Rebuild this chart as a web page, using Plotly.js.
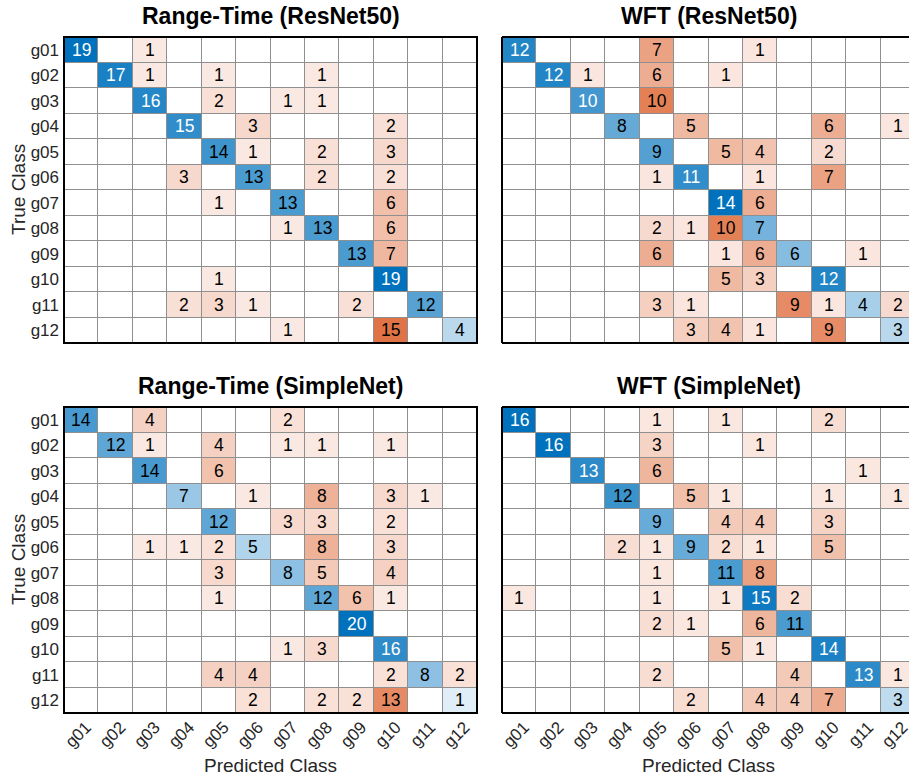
<!DOCTYPE html>
<html>
<head>
<meta charset="utf-8">
<script src="https://cdn.plot.ly/plotly-3.0.1.min.js"></script>
<style>
  html, body { margin: 0; padding: 0; background: #fff; }
  #chart { width: 909px; height: 780px; }
</style>
</head>
<body>
<div id="chart"></div>
<script>
// Gesture classes (rows = true class, columns = predicted class)
const classes = ['g01','g02','g03','g04','g05','g06','g07','g08','g09','g10','g11','g12'];

const rangeTimeResNet50 = [
  [19, 0, 1, 0, 0, 0, 0, 0, 0, 0, 0, 0],
  [ 0,17, 1, 0, 1, 0, 0, 1, 0, 0, 0, 0],
  [ 0, 0,16, 0, 2, 0, 1, 1, 0, 0, 0, 0],
  [ 0, 0, 0,15, 0, 3, 0, 0, 0, 2, 0, 0],
  [ 0, 0, 0, 0,14, 1, 0, 2, 0, 3, 0, 0],
  [ 0, 0, 0, 3, 0,13, 0, 2, 0, 2, 0, 0],
  [ 0, 0, 0, 0, 1, 0,13, 0, 0, 6, 0, 0],
  [ 0, 0, 0, 0, 0, 0, 1,13, 0, 6, 0, 0],
  [ 0, 0, 0, 0, 0, 0, 0, 0,13, 7, 0, 0],
  [ 0, 0, 0, 0, 1, 0, 0, 0, 0,19, 0, 0],
  [ 0, 0, 0, 2, 3, 1, 0, 0, 2, 0,12, 0],
  [ 0, 0, 0, 0, 0, 0, 1, 0, 0,15, 0, 4]
];

const wftResNet50 = [
  [12, 0, 0, 0, 7, 0, 0, 1, 0, 0, 0, 0],
  [ 0,12, 1, 0, 6, 0, 1, 0, 0, 0, 0, 0],
  [ 0, 0,10, 0,10, 0, 0, 0, 0, 0, 0, 0],
  [ 0, 0, 0, 8, 0, 5, 0, 0, 0, 6, 0, 1],
  [ 0, 0, 0, 0, 9, 0, 5, 4, 0, 2, 0, 0],
  [ 0, 0, 0, 0, 1,11, 0, 1, 0, 7, 0, 0],
  [ 0, 0, 0, 0, 0, 0,14, 6, 0, 0, 0, 0],
  [ 0, 0, 0, 0, 2, 1,10, 7, 0, 0, 0, 0],
  [ 0, 0, 0, 0, 6, 0, 1, 6, 6, 0, 1, 0],
  [ 0, 0, 0, 0, 0, 0, 5, 3, 0,12, 0, 0],
  [ 0, 0, 0, 0, 3, 1, 0, 0, 9, 1, 4, 2],
  [ 0, 0, 0, 0, 0, 3, 4, 1, 0, 9, 0, 3]
];

const rangeTimeSimpleNet = [
  [14, 0, 4, 0, 0, 0, 2, 0, 0, 0, 0, 0],
  [ 0,12, 1, 0, 4, 0, 1, 1, 0, 1, 0, 0],
  [ 0, 0,14, 0, 6, 0, 0, 0, 0, 0, 0, 0],
  [ 0, 0, 0, 7, 0, 1, 0, 8, 0, 3, 1, 0],
  [ 0, 0, 0, 0,12, 0, 3, 3, 0, 2, 0, 0],
  [ 0, 0, 1, 1, 2, 5, 0, 8, 0, 3, 0, 0],
  [ 0, 0, 0, 0, 3, 0, 8, 5, 0, 4, 0, 0],
  [ 0, 0, 0, 0, 1, 0, 0,12, 6, 1, 0, 0],
  [ 0, 0, 0, 0, 0, 0, 0, 0,20, 0, 0, 0],
  [ 0, 0, 0, 0, 0, 0, 1, 3, 0,16, 0, 0],
  [ 0, 0, 0, 0, 4, 4, 0, 0, 0, 2, 8, 2],
  [ 0, 0, 0, 0, 0, 2, 0, 2, 2,13, 0, 1]
];

const wftSimpleNet = [
  [16, 0, 0, 0, 1, 0, 1, 0, 0, 2, 0, 0],
  [ 0,16, 0, 0, 3, 0, 0, 1, 0, 0, 0, 0],
  [ 0, 0,13, 0, 6, 0, 0, 0, 0, 0, 1, 0],
  [ 0, 0, 0,12, 0, 5, 1, 0, 0, 1, 0, 1],
  [ 0, 0, 0, 0, 9, 0, 4, 4, 0, 3, 0, 0],
  [ 0, 0, 0, 2, 1, 9, 2, 1, 0, 5, 0, 0],
  [ 0, 0, 0, 0, 1, 0,11, 8, 0, 0, 0, 0],
  [ 1, 0, 0, 0, 1, 0, 1,15, 2, 0, 0, 0],
  [ 0, 0, 0, 0, 2, 1, 0, 6,11, 0, 0, 0],
  [ 0, 0, 0, 0, 0, 0, 5, 1, 0,14, 0, 0],
  [ 0, 0, 0, 0, 2, 0, 0, 0, 4, 0,13, 1],
  [ 0, 0, 0, 0, 0, 2, 0, 4, 4, 7, 0, 3]
];

const panelTitles = ['Range-Time (ResNet50)', 'WFT (ResNet50)', 'Range-Time (SimpleNet)', 'WFT (SimpleNet)'];
const matrices = [rangeTimeResNet50, wftResNet50, rangeTimeSimpleNet, wftSimpleNet];
// smallest diagonal count drawn with white text in each panel
const whiteTextMin = [15, 10, 15, 13];

// ---- layout geometry (pixels in a 909 x 780 figure) ----
const W = 909, H = 780;
const cellW = 413 / 12;
const panels = [
  { left: 64,  top: 37,  right: 477, bottom: 343, yLabels: true,  xLabels: false, clipped: false },
  { left: 502, top: 37,  right: 909, bottom: 343, yLabels: false, xLabels: false, clipped: true  },
  { left: 64,  top: 407, right: 477, bottom: 713, yLabels: true,  xLabels: true,  clipped: false },
  { left: 502, top: 407, right: 909, bottom: 713, yLabels: false, xLabels: true,  clipped: true  }
];

const FONT = 'Liberation Sans, Arial, Helvetica, sans-serif';
const BLUE = [0, 114, 189];
const ORANGE = [217, 83, 25];

function ramp(rgb) {
  const mix = a => 'rgb(' + rgb.map(c => Math.round(255 + (c - 255) * a)).join(',') + ')';
  return [[0, '#ffffff'], [0.0001, mix(0.08)], [1, mix(1)]];
}

const data = [];
const annotations = [];
const shapes = [];
const layout = {
  width: W, height: H,
  margin: { l: 0, r: 0, t: 0, b: 0 },
  paper_bgcolor: '#ffffff',
  plot_bgcolor: '#8f8f8f',
  showlegend: false,
  font: { family: FONT, color: '#262626' }
};

matrices.forEach((m, p) => {
  const g = panels[p];
  const idx = p === 0 ? '' : String(p + 1);
  const xa = 'x' + idx, ya = 'y' + idx;
  const zmax = Math.max(...m.flat());

  const offDiag = m.map((row, i) => row.map((v, j) => (i === j ? null : v)));
  const diag = m.map((row, i) => row.map((v, j) => (i === j ? v : null)));

  const common = {
    type: 'heatmap', x: classes, y: classes, xaxis: xa, yaxis: ya,
    zmin: 0, zmax: zmax, showscale: false, xgap: 1, ygap: 1, hoverinfo: 'skip'
  };
  data.push(Object.assign({}, common, { z: offDiag, colorscale: ramp(ORANGE) }));
  data.push(Object.assign({}, common, { z: diag, colorscale: ramp(BLUE) }));

  // cell counts
  m.forEach((row, i) => row.forEach((v, j) => {
    if (v === 0) return;
    const white = i === j && v >= whiteTextMin[p];
    annotations.push({
      x: classes[j], y: classes[i], xref: xa, yref: ya, text: String(v),
      showarrow: false, font: { family: FONT, size: 17.5, color: white ? '#ffffff' : '#000000' }
    });
  }));

  const visibleCols = (g.right - g.left) / cellW;
  layout['xaxis' + idx] = {
    domain: [g.left / W, g.right / W],
    anchor: ya,
    type: 'category', categoryorder: 'array', categoryarray: classes,
    range: [-0.5, -0.5 + visibleCols],
    showgrid: false, zeroline: false, showline: false, ticks: '',
    showticklabels: g.xLabels, tickangle: -45, ticklabelstandoff: 0, ticklabelshift: 5,
    tickfont: { family: FONT, size: 17, color: '#262626' },
    fixedrange: true
  };
  layout['yaxis' + idx] = {
    domain: [1 - g.bottom / H, 1 - g.top / H],
    anchor: xa,
    type: 'category', categoryorder: 'array', categoryarray: classes,
    range: [11.5, -0.5],
    showgrid: false, zeroline: false, showline: false, ticks: '',
    showticklabels: g.yLabels, ticklabelstandoff: 4,
    tickfont: { family: FONT, size: 17, color: '#262626' },
    fixedrange: true
  };

  // panel frame
  const line = { color: '#000000', width: 2 };
  const dom = { xref: xa + ' domain', yref: ya + ' domain' };
  if (!g.clipped) {
    shapes.push(Object.assign({ type: 'rect', x0: 0, x1: 1, y0: 0, y1: 1, line: line }, dom));
  } else {
    shapes.push(Object.assign({ type: 'line', x0: 0, x1: 0, y0: 0, y1: 1, line: line }, dom));
    shapes.push(Object.assign({ type: 'line', x0: 0, x1: 1.01, y0: 1, y1: 1, line: line }, dom));
    shapes.push(Object.assign({ type: 'line', x0: 0, x1: 1.01, y0: 0, y1: 0, line: line }, dom));
  }

  // panel title
  annotations.push({
    text: '<b>' + panelTitles[p] + '</b>',
    xref: 'paper', yref: 'paper',
    x: ((g.left + g.left + 12 * cellW) / 2) / W, y: 1 - (g.top - 21) / H,
    xanchor: 'center', yanchor: 'middle', showarrow: false,
    font: { family: FONT, size: 23, color: '#000000' }
  });

  // axis titles
  if (g.yLabels) {
    annotations.push({
      text: 'True Class', xref: 'paper', yref: 'paper',
      x: 18 / W, y: 1 - ((g.top + g.bottom) / 2) / H, textangle: -90,
      xanchor: 'center', yanchor: 'middle', showarrow: false,
      font: { family: FONT, size: 19, color: '#262626' }
    });
  }
  if (g.xLabels) {
    annotations.push({
      text: 'Predicted Class', xref: 'paper', yref: 'paper',
      x: ((g.left + g.left + 12 * cellW) / 2) / W, y: 1 - 765 / H,
      xanchor: 'center', yanchor: 'middle', showarrow: false,
      font: { family: FONT, size: 19, color: '#262626' }
    });
  }
});

layout.annotations = annotations;
layout.shapes = shapes;

Plotly.newPlot('chart', data, layout, { staticPlot: true, displayModeBar: false });
</script>
</body>
</html>
